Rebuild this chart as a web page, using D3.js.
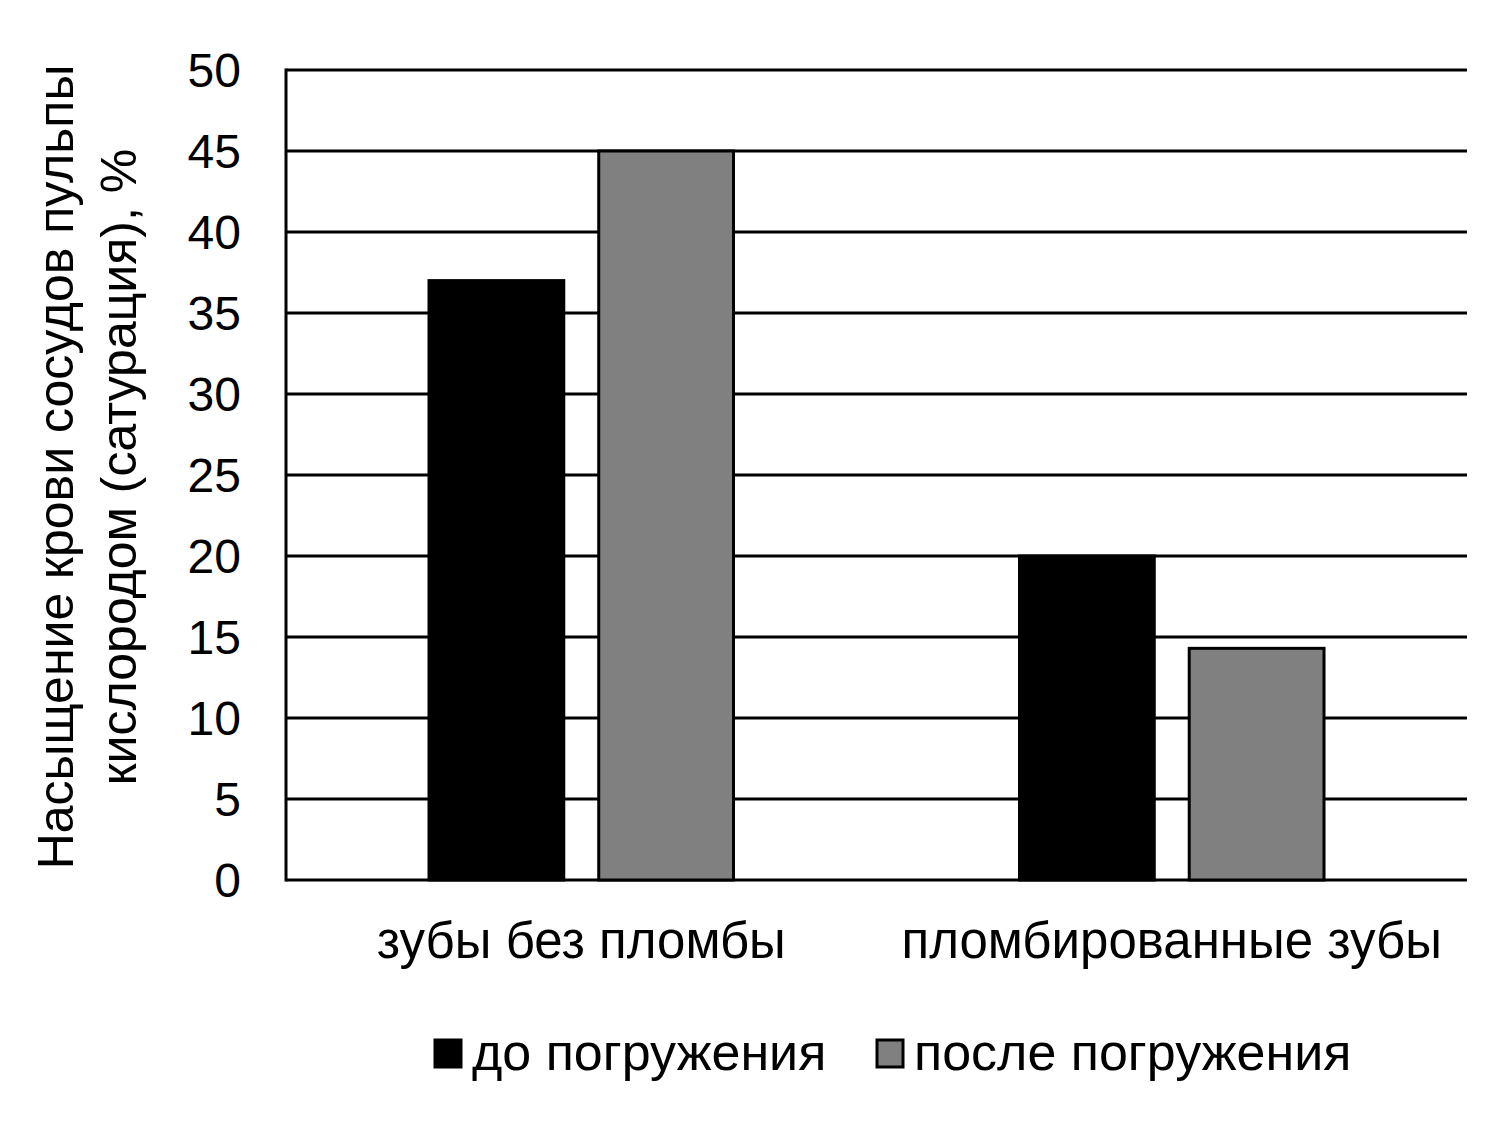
<!doctype html>
<html>
<head>
    <meta charset="UTF-8">
    <title>Сатурация</title>
    <script src="https://d3js.org/d3.v7.min.js"></script>
    <style>
        body { margin: 0; background: #fff; }
        text { font-family: "Liberation Sans", Arial, sans-serif; fill: #000; }
    </style>
</head>
<body>
<script>
    // data
    var categories = ["зубы без пломбы", "пломбированные зубы"];
    var series = ["до погружения", "после погружения"];
    var before = [37, 20];
    var after = [45, 14.3];
    var yTicks = [0, 5, 10, 15, 20, 25, 30, 35, 40, 45, 50];
    var colors = ["#000000", "#808080"];

    var w = 1500, h = 1124;
    var padL = 286, padR = 1467, padT = 70, padB = 880;

    var svg = d3.select("body").append("svg")
        .attr("width", w)
        .attr("height", h);

    var y = d3.scaleLinear().domain([0, 50]).range([padB, padT]);
    var x0 = d3.scaleBand().domain(categories).range([padL, padR]).padding(0);
    var x1 = d3.scaleBand().domain(series)
        .range([143, x0.bandwidth() - 143]).paddingInner(0.206);

    // gridlines
    svg.append("g")
        .selectAll("line")
        .data(yTicks)
        .enter().append("line")
        .attr("x1", padL)
        .attr("x2", padR)
        .attr("y1", function(d){ return y(d); })
        .attr("y2", function(d){ return y(d); })
        .attr("stroke", "#000")
        .attr("stroke-width", 3);

    // y axis line
    svg.append("line")
        .attr("x1", padL).attr("x2", padL)
        .attr("y1", y(50) - 1.5).attr("y2", y(0) + 1.5)
        .attr("stroke", "#000").attr("stroke-width", 3);

    // tick labels
    svg.append("g")
        .selectAll("text")
        .data(yTicks)
        .enter().append("text")
        .attr("x", 241)
        .attr("y", function(d){ return y(d) + 17; })
        .attr("text-anchor", "end")
        .attr("font-size", 48)
        .text(function(d){ return d; });

    // bars
    var rows = categories.map(function(c, i){
        return [{cat: c, s: series[0], v: before[i], k: 0},
                {cat: c, s: series[1], v: after[i], k: 1}];
    });

    svg.append("g")
        .selectAll("g")
        .data(rows)
        .enter().append("g")
        .attr("transform", function(d){ return "translate(" + x0(d[0].cat) + ",0)"; })
        .selectAll("rect")
        .data(function(d){ return d; })
        .enter().append("rect")
        .attr("x", function(d){ return x1(d.s); })
        .attr("y", function(d){ return y(d.v); })
        .attr("width", x1.bandwidth())
        .attr("height", function(d){ return y(0) - y(d.v); })
        .attr("fill", function(d){ return colors[d.k]; })
        .attr("stroke", "#000")
        .attr("stroke-width", 3);

    // category labels
    svg.append("g")
        .selectAll("text")
        .data(categories)
        .enter().append("text")
        .attr("x", function(d){ return x0(d) + x0.bandwidth() / 2; })
        .attr("y", 958)
        .attr("text-anchor", "middle")
        .attr("font-size", 51)
        .text(function(d){ return d; });

    // y title
    var title = svg.append("text")
        .attr("transform", "translate(0,467) rotate(-90)")
        .attr("text-anchor", "middle")
        .attr("font-size", 50);
    title.append("tspan").attr("x", 0).attr("y", 73).text("Насыщение крови сосудов пульпы");
    title.append("tspan").attr("x", 0).attr("y", 136).text("кислородом (сатурация), %");

    // legend
    var legX = [435, 877];
    var leg = svg.append("g")
        .selectAll("g")
        .data(series)
        .enter().append("g")
        .attr("transform", function(d, i){ return "translate(" + legX[i] + ",1040)"; });
    leg.append("rect")
        .attr("width", 26).attr("height", 27)
        .attr("fill", function(d, i){ return colors[i]; })
        .attr("stroke", "#000").attr("stroke-width", 3);
    leg.append("text")
        .attr("x", 37)
        .attr("y", 30)
        .attr("font-size", 52)
        .text(function(d){ return d; });
</script>
</body>
</html>
